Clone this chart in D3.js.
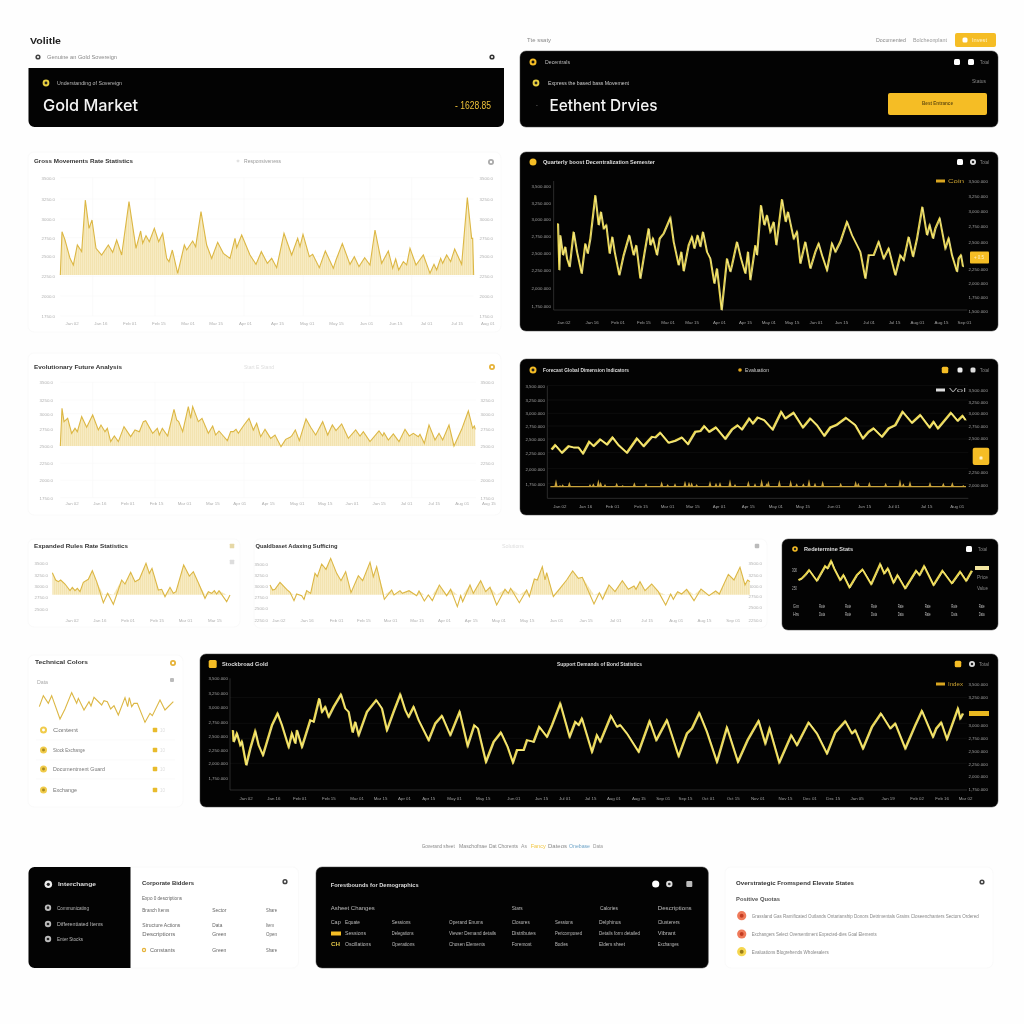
<!DOCTYPE html>
<html><head><meta charset="utf-8">
<script src="https://cdn.jsdelivr.net/npm/d3@7/dist/d3.min.js"></script>
<style>html,body{margin:0;padding:0;background:#fefefe}svg{display:block;filter:blur(0.3px)}text{font-family:"Liberation Sans",Arial,sans-serif}</style>
</head><body><svg id="c" width="1024" height="1024" viewBox="0 0 1024 1024"></svg>
<script>
// ---- data: [day, price] ----
const goldPrice=[[121,250],[126,380],[135,355],[150,300],[160,280],[172,340],[185,320],[196,475],[207,390],[216,415],[228,330],[245,310],[265,340],[278,318],[290,355],[305,310],[327,470],[348,330],[362,382],[368,345],[378,368],[388,350],[403,390],[416,350],[428,375],[440,300],[447,290],[457,325],[473,255],[493,340],[500,325],[518,352],[527,335],[543,440],[560,340],[575,300],[593,348],[610,315],[630,300],[645,360],[650,332],[665,370],[690,310],[708,282],[724,320],[742,285],[755,300],[770,272],[792,375],[815,310],[833,360],[840,335],[849,372],[868,305],[878,312],[898,272],[916,322],[940,270],[948,295],[967,344],[990,282],[1003,305],[1017,275],[1034,302],[1050,280],[1065,385],[1085,285],[1105,322],[1118,270],[1127,298],[1136,265],[1150,290],[1160,280],[1170,330],[1188,280],[1210,310],[1230,255],[1242,282],[1250,265],[1262,300],[1268,285],[1280,310],[1292,290],[1304,328],[1325,282],[1342,482],[1355,360],[1358,360],[1361,250]];
const ethPrice=[[143,405],[147,265],[150,370],[158,310],[165,335],[170,300],[178,275],[190,380],[200,320],[214,255],[225,345],[232,315],[240,360],[255,490],[265,400],[272,440],[280,390],[288,400],[298,315],[306,365],[313,320],[327,250],[340,310],[357,370],[370,310],[378,340],[390,240],[403,320],[415,390],[420,340],[428,360],[440,310],[448,360],[460,375],[480,422],[490,350],[505,280],[513,320],[520,262],[535,340],[545,365],[552,330],[562,370],[570,335],[578,380],[590,320],[600,300],[612,225],[620,270],[634,145],[650,300],[660,260],[665,280],[680,350],[692,300],[705,255],[713,320],[720,235],[735,340],[740,310],[752,460],[762,400],[770,430],[780,380],[790,410],[798,340],[815,478],[826,410],[833,440],[850,360],[860,380],[870,285],[885,350],[900,270],[915,320],[925,345],[935,310],[950,265],[965,345],[975,320],[990,350],[1010,410],[1025,370],[1040,340],[1050,320],[1065,240],[1075,310],[1090,310],[1105,350],[1120,300],[1135,330],[1155,250],[1170,310],[1180,295],[1195,365],[1208,305],[1220,360],[1236,455],[1250,370],[1258,400],[1268,360],[1275,390],[1288,420],[1305,330],[1315,360],[1325,310],[1340,260],[1345,300],[1352,310],[1358,275]];
const silverPrice=[[121,712],[126,825],[132,785],[143,795],[155,750],[165,765],[172,755],[185,800],[200,768],[218,805],[235,760],[243,775],[255,755],[262,765],[272,725],[283,742],[295,725],[312,770],[332,740],[345,760],[358,755],[370,785],[377,788],[398,750],[412,765],[418,745],[427,765],[443,742],[462,822],[470,790],[476,785],[488,755],[505,830],[512,795],[518,830],[535,785],[546,795],[565,750],[578,772],[587,745],[597,757],[610,742],[622,728],[632,755],[640,755],[648,762],[655,750],[672,775],[687,795],[700,760],[710,780],[722,740],[735,762],[752,735],[765,745],[783,710],[797,732],[810,738],[815,742],[826,760],[838,728],[858,793],[872,768],[887,745],[908,785],[923,745],[937,775],[948,758],[965,778],[985,735],[1007,760],[1020,742],[1030,755],[1050,725],[1077,757],[1088,742],[1092,752],[1105,730],[1120,748],[1137,725],[1155,762],[1168,742],[1180,750],[1195,740],[1200,747],[1213,720],[1227,775],[1245,730],[1257,750],[1268,730],[1287,775],[1302,712],[1325,762],[1345,817],[1358,765],[1363,772],[1366,762]];
const copperPrice=[[124,702],[135,715],[155,692],[175,712],[190,708],[205,708],[218,690],[237,725],[250,712],[270,732],[290,717],[307,738],[325,715],[350,692],[380,735],[400,712],[425,740],[435,738],[450,752],[475,722],[495,728],[515,738],[533,718],[555,755],[570,757],[582,772],[597,755],[617,768],[645,734],[665,762],[682,774],[695,762],[717,795],[728,780],[742,798],[762,790],[787,762],[813,815],[825,795],[835,802],[850,812],[878,768],[900,795],[920,775],[942,743],[960,768],[978,775],[1007,797],[1035,775],[1058,735],[1075,755],[1090,765],[1115,740],[1135,765],[1155,775],[1177,815],[1205,782],[1230,805],[1258,768],[1270,785],[1283,765],[1322,812],[1342,788],[1357,803],[1366,790]];
const copperVolume=[[138,612],[150,595],[158,597],[178,605],[240,598],[250,600],[265,612],[272,605],[285,598],[320,602],[338,595],[373,603],[408,600],[455,606],[473,598],[495,600],[525,608],[537,605],[545,603],[560,598],[600,607],[618,602],[630,604],[660,612],[675,598],[715,608],[735,600],[755,613],[770,600],[775,608],[808,610],[842,610],[860,600],[880,600],[897,613],[915,602],[938,608],[992,602],[1037,608],[1045,602],[1078,605],[1127,602],[1170,612],[1180,600],[1200,607],[1260,604],[1300,602],[1327,604],[1360,595]];
const platinumPrice=[[97,872],[107,850],[115,845],[122,850],[135,838],[150,818],[157,828],[165,818],[172,825],[180,815],[190,843],[205,852],[217,878],[230,845],[250,782],[263,810],[280,777],[305,850],[315,838],[332,873],[345,845],[358,852],[378,900],[388,870],[396,885],[415,820],[425,822],[435,800],[450,828],[460,810],[468,815],[491,895],[508,862],[520,875],[535,842],[555,795],[565,815],[575,810],[583,818],[590,808],[597,818],[620,785],[630,805]];
const palladiumPrice=[[750,835],[758,820],[765,822],[780,843],[800,822],[810,813],[822,788],[830,808],[845,803],[852,792],[860,818],[872,810],[885,870],[892,860],[905,898],[918,882],[932,915],[950,870],[963,848],[977,875],[993,812],[1015,863],[1028,848],[1050,903],[1060,860],[1070,890],[1093,792],[1115,820],[1122,805],[1140,818],[1147,810],[1167,818],[1190,803],[1197,817],[1213,787],[1225,805],[1237,788],[1258,835],[1280,803],[1292,822],[1312,770],[1322,803],[1328,785],[1350,835],[1360,810],[1382,848],[1397,815],[1410,828],[1430,775],[1455,822],[1465,810],[1472,825],[1498,782],[1520,820],[1528,800],[1543,853],[1552,850],[1567,890],[1575,850],[1580,872],[1600,800],[1620,825],[1640,850],[1658,877],[1675,855],[1687,858],[1722,778],[1738,812],[1748,792],[1767,835],[1785,815],[1807,848],[1825,822],[1842,832],[1848,822],[1860,845],[1875,818],[1895,838],[1915,815],[1937,775],[1952,808],[1960,792],[1973,815],[1985,808],[2000,822],[2022,788],[2043,823],[2067,803],[2087,817],[2098,808],[2125,867],[2142,850],[2160,888],[2175,835],[2183,850],[2190,845]];
const rhodiumPrice=[[865,850],[875,855],[885,865],[897,880],[920,848],[945,892],[952,885],[963,907],[972,885],[990,850],[1000,865],[1018,828],[1040,865],[1057,882],[1083,838],[1110,898],[1122,870],[1133,885],[1150,842],[1162,865],[1185,825],[1218,878],[1228,865],[1242,892],[1270,835],[1297,878],[1325,840],[1350,875],[1368,848],[1385,878]];
const nickelPrice=[[58,815],[70,848],[85,825],[95,848],[120,778],[135,808],[155,857],[170,825],[175,840],[192,805],[207,830],[213,817],[222,843],[245,820],[252,833],[262,830],[272,808],[282,818],[295,790],[315,842],[323,815],[328,842],[335,815],[342,825],[352,825],[375,768],[390,795],[397,788],[420,835],[435,805],[460,830]];
const indexPrice=[[638,745],[640,710],[650,735],[660,700],[665,710],[678,640],[690,690],[705,742],[715,700],[728,670],[740,710],[755,760],[772,795],[785,760],[805,695],[815,735],[825,705],[830,745],[845,695],[870,775],[880,770],[897,840],[905,800],[915,815],[925,785],[940,815],[962,852],[975,810],[985,800],[997,738],[1005,770],[1015,730],[1040,800],[1068,835],[1085,810],[1100,745],[1120,800],[1140,852],[1155,805],[1165,785],[1180,815],[1195,775],[1225,715],[1245,765],[1265,788],[1290,730],[1318,800],[1342,698],[1362,760],[1373,750],[1397,650],[1420,710],[1442,738],[1462,695],[1478,648],[1490,685],[1510,685],[1520,715],[1540,710],[1557,755],[1580,725],[1595,760],[1620,825],[1648,725],[1665,770],[1675,760],[1685,780],[1715,680],[1730,730],[1740,710],[1772,788],[1790,755],[1800,760],[1820,735],[1855,680],[1888,772],[1908,715],[1940,775],[1975,667],[2000,735],[2015,750],[2037,797],[2060,740],[2090,650],[2120,753],[2153,650],[2182,715],[2215,773],[2235,705],[2248,750],[2277,648],[2313,730],[2330,700],[2365,768],[2390,735],[2420,675],[2445,738],[2475,772],[2495,735],[2505,745],[2528,690],[2555,755],[2582,795],[2610,750],[2625,765],[2655,690],[2685,760],[2705,803],[2738,725],[2748,750],[2763,768],[2780,718],[2813,810],[2820,780],[2828,795]];
// ---- ticks ----
const t1=[542,478,418,362,306,246,187,127], t1R=t1;
const t2L=[518,467,418,368,317,264,211,158], t2R=[531,487,443,396,350,269,225,183,141];
const t3L=[903,850,809,763,713,660,609,557], t3R=t3L;
const t4L=[893,850,810,772,733,692,644,599], t4R=[880,845,810,772,735,633,595];
const t5L=[902,866,833,800,764], t6L=[899,866,832,800,767,730], t6R=[900,865,833,801,769,730];
const t9L=[900,856,813,770,728,686,645,600], t9R=[882,843,761,721,682,644,607,569];
const x1=[155,241,328,415,503,587,675,771,860,948,1038,1126,1218,1310,1402];
const x2=[160,245,323,400,473,545,627,705,775,845,917,993,1076,1152,1221,1293,1362];
const x3=[155,238,322,408,492,577,658,743,830,914,995,1076,1158,1241,1325,1405];
const x4=[148,225,306,392,471,547,626,713,796,877,970,1062,1150,1248,1340];
const x5=[155,238,323,410,495,583];
const x6=[775,860,948,1030,1110,1190,1272,1352,1435,1520,1608,1697,1785,1880,1967,2052,2138];
const x9=[677,760,838,925,1010,1080,1152,1225,1302,1388,1480,1563,1633,1710,1780,1855,1928,1995,2063,2138,2212,2295,2368,2438,2510,2603,2690,2765,2835];
const priceLabels=["3500.0","3250.0","3000.0","2750.0","2500.0","2250.0","2000.0","1750.0","1500.0"];
const priceLabelsLong=["3,500.000","3,250.000","3,000.000","2,750.000","2,500.000","2,250.000","2,000.000","1,750.000","1,500.000"];
const dateLabels=["Jan 02","Jan 16","Feb 01","Feb 15","Mar 01","Mar 15","Apr 01","Apr 15","May 01","May 15","Jun 01","Jun 15","Jul 01","Jul 15","Aug 01","Aug 15","Sep 01","Sep 15","Oct 01","Oct 15","Nov 01","Nov 15","Dec 01","Dec 15","Jan 05","Jan 19","Feb 02","Feb 16","Mar 02"];

// ---- helpers ----
const svg=d3.select("#c");
const defs=svg.append("defs");
const pat=defs.append("pattern").attr("id","st").attr("patternUnits","userSpaceOnUse").attr("width",2).attr("height",4);
pat.append("rect").attr("width",2).attr("height",4).attr("fill","#f7ebc2");
pat.append("rect").attr("width",0.8).attr("height",4).attr("fill","#f2e2ac");
const Y="#f5bd25",LINE="#ecd648",GOLD="#dcb744";
function card(x,y,w,h,dark,r=6){return svg.append("rect").attr("x",x).attr("y",y).attr("width",w).attr("height",h).attr("rx",r)
  .attr("fill",dark?"#030303":"#ffffff").attr("stroke",dark?"#444":"#fafafa").attr("stroke-width",dark?0.5:1);}
function txt(x,y,s,o={}){const t=svg.append("text").attr("x",x).attr("y",y).attr("dy","0.35em").text(s)
  .attr("font-size",o.size||5.2).attr("fill",o.fill||"#777").attr("font-weight",o.bold?700:400);
  if(o.font)t.style("font-family",o.font);
  if(o.w)t.attr("textLength",o.w).attr("lengthAdjust","spacingAndGlyphs");return t;}
function ico(x,y,c="#f3c52e",r=3.5,inner="#111"){svg.append("circle").attr("cx",x).attr("cy",y).attr("r",r).attr("fill",c);
  if(inner)svg.append("circle").attr("cx",x).attr("cy",y).attr("r",r*0.42).attr("fill",inner);}
function sq(x,y,c="#fff",s=6,r=1.5){svg.append("rect").attr("x",x-s/2).attr("y",y-s/2).attr("width",s).attr("height",s).attr("rx",r).attr("fill",c);}
function plot(c){
  const x=d3.scaleLinear().domain(c.xd).range([c.ox+c.xd[0]/3,c.ox+c.xd[1]/3]);
  const y=d3.scaleLinear().domain(c.yd).range([c.oy+(1000-c.yd[0])/3,c.oy+(1000-c.yd[1])/3]);
  const g=svg.append("g"),lab=c.dark?"#a0a0a0":"#b0b0b0";
  const grid=c.dark?"#141414":"#f9f9f9";
  const pl=c.dark?priceLabelsLong:priceLabels;
  g.selectAll(".gh").data(c.grid||c.tl||[]).join("line").attr("x1",x(c.xd[0])).attr("x2",x(c.xd[1])).attr("y1",d=>y(d)).attr("y2",d=>y(d)).attr("stroke",grid).attr("stroke-width",0.6);
  if(c.gridX)g.selectAll(".gv").data(c.gridX).join("line").attr("x1",d=>x(d)).attr("x2",d=>x(d)).attr("y1",y(c.yd[0])).attr("y2",y(c.yd[1])).attr("stroke",grid).attr("stroke-width",0.6);
  if(c.frame){g.append("path").attr("d",`M${x(c.xd[0])},${y(c.yd[1])}V${y(c.yd[0])}H${x(c.xd[1])}`).attr("fill","none").attr("stroke","#3c3c3c").attr("stroke-width",0.7);}
  const ax=(a,px,py,anchor)=>{const s=g.append("g").attr("transform",`translate(${px},${py})`).call(a);
    s.select(".domain").remove();s.selectAll("text").attr("fill",lab).attr("font-size",c.fs||4.4).attr("dy","0.35em").attr("text-anchor",anchor).attr("y",null).style("font-family",'"Liberation Sans",Arial,sans-serif');return s;};
  if(c.tl)ax(d3.axisLeft(y).tickValues(c.tl).tickSize(0).tickPadding(0).tickFormat((d,i)=>pl[i%9]),c.lx,0,"end");
  if(c.tr)ax(d3.axisRight(y).tickValues(c.tr).tickSize(0).tickPadding(0).tickFormat((d,i)=>pl[i%9]),c.rx,0,"end").selectAll("text").attr("x",0);
  if(c.tx){const s=ax(d3.axisBottom(x).tickValues(c.tx).tickSize(0).tickPadding(0).tickFormat((d,i)=>dateLabels[i%29]),0,c.xy,"middle");s.selectAll("text").attr("y",0);}
  if(c.base!=null){const a=d3.area().x(d=>x(d[0])).y0(y(c.base)).y1(d=>y(Math.max(d[1],c.base)));
    g.append("path").attr("d",a(c.data)).attr("fill","url(#st)");}
  const l=d3.line().x(d=>x(d[0])).y(d=>y(d[1]));
  g.append("path").attr("d",l(c.data)).attr("fill","none").attr("stroke",c.color||GOLD).attr("stroke-width",c.sw||1.1).attr("stroke-linejoin","miter");
  if(c.dark&&c.sw2)g.append("path").attr("d",l(c.data)).attr("fill","none").attr("stroke","#f8ee8e").attr("stroke-width",c.sw2).attr("transform","translate(0.9,0.5)").attr("opacity",.85);
  return {x,y,g};
}

// ---- top left ----
svg.append("rect").attr("width",1024).attr("height",1024).attr("fill","#fefefe");
txt(30,41,"Volitle",{size:9.5,bold:true,fill:"#222",w:31});
ico(38,57,"#444",2.6,"#fff");txt(47,57,"Genuine an Gold Sovereign",{w:70,size:5,fill:"#888"});
ico(492,57,"#333",2.6,"#fff");
svg.append("path").attr("d","M28.5,68H504V121a6,6 0 0 1 -6,6H34.5a6,6 0 0 1 -6,-6Z").attr("fill","#030303");
ico(46,83,"#e8d040",3.4,"#222");txt(57,83,"Understanding of Sovereign",{w:65,size:5,fill:"#bbb"});
txt(43,105.5,"Gold Market",{size:16.5,fill:"#f4f4f4",font:"Inter",w:95}).attr("font-weight",500);
txt(455,105,"- 1628.85",{size:10,fill:"#eec23a",w:36});

// ---- top right ----
txt(527,40,"Tte ssaty",{w:24,fill:"#888"});txt(876,40,"Documented",{w:30,fill:"#888"});txt(913,40,"Bolcheonplant",{w:34,fill:"#999"});
svg.append("rect").attr("x",955).attr("y",33).attr("width",41).attr("height",14).attr("rx",2).attr("fill",Y);
sq(965,40,"#fff",5,1.5);txt(972,40,"Invest",{w:15,fill:"#fff3c8"});
card(520,51,478,76,true);
ico(533,62,Y,3.5,"#111");txt(545,62,"Decentrals",{w:25,fill:"#bbb"});sq(957,62);sq(971,62);txt(980,62,"Total",{w:9,fill:"#888"});
ico(536,83,"#e8d040",3.4,"#222");txt(548,83,"Express the based bass Movement",{w:81,fill:"#ccc"});txt(972,81,"Status",{w:14,fill:"#888"});
txt(536,105,"-",{fill:"#888"});txt(549.5,105,"Eethent Drvies",{size:16.5,fill:"#f4f4f4",font:"Inter",w:108}).attr("font-weight",500);
svg.append("rect").attr("x",888).attr("y",93).attr("width",99).attr("height",22).attr("rx",2).attr("fill",Y);
txt(922,103,"Best Entrance",{w:31,fill:"#6b5210",bold:true});

// ---- chart 1 ----
card(28,152,473,180,false);
txt(34,161,"Gross Movements Rate Statistics",{w:99,bold:true,fill:"#333",size:5.6});
sq(238,161,"#e2e2e2",2.5,0.5);txt(244,161,"Responsiveness",{w:37,fill:"#999"});ico(491,162,"#aaa",3,"#fff");
plot({data:goldPrice,base:250,ox:20,oy:25,xd:[121,1361],yd:[127,542],tl:t1,tr:t1R,lx:55,rx:493,tx:x1,xy:323,gridX:[218,405,672,850,1050,1175]});

// ---- chart 2 ----
card(520,152,478,179,true);
ico(533,162,Y,3.5,Y);txt(543,162,"Quarterly boost Decentralization Semester",{w:112,bold:true,fill:"#ddd",size:5.4});
sq(960,162);ico(973,162,"#e6e6e6",3,"#222");txt(980,162,"Total",{w:9,fill:"#888"});
plot({data:ethPrice,dark:true,color:LINE,sw:1.4,sw2:1.1,frame:true,ox:510,oy:25,xd:[131,1372],yd:[145,532],tl:t2L,tr:t2R,lx:551,rx:988,tx:x2,xy:322.7,grid:[],fs:4.4});
svg.append("rect").attr("x",936).attr("y",179.5).attr("width",9).attr("height",3).attr("fill","#d9a520");txt(948,181,"Coin",{w:16,fill:"#c9a030"});
svg.append("rect").attr("x",970).attr("y",251.5).attr("width",19).attr("height",12).attr("rx",1).attr("fill",Y);txt(974,257,"+ 0.5",{w:10,fill:"#fff3c8"});

// ---- chart 3 ----
card(28,353,473,162,false);
txt(34,367,"Evolutionary Future Analysis",{w:88,bold:true,fill:"#333",size:5.6});txt(244,367,"Start E Stand",{w:30,fill:"#ddd"});
ico(492,367,"#e6b33a",3,"#fff");
plot({data:silverPrice,base:712,ox:20,oy:350,xd:[121,1368],yd:[557,903],tl:t3L,tr:t3R,lx:53,rx:494,tx:x3,xy:503.7,gridX:[218,405,672,850,1050,1175]});

// ---- chart 4 ----
card(520,359,478,156,true);
ico(533,370,Y,3.5,"#222");txt(543,370,"Forecast Global Dimension Indicators",{w:86,bold:true,fill:"#ddd",size:5.4});
ico(740,370,"#e3a81f",1.8,null);txt(745,370,"Evaluation",{w:24,fill:"#ccc"});sq(945,370,Y,6.5);sq(960,370,"#eee",5);sq(973,370,"#ddd",5);txt(980,370,"Total",{w:9,fill:"#888"});
const p4=plot({data:copperPrice,dark:true,color:LINE,sw:1.9,sw2:1.2,frame:true,ox:510,oy:350,xd:[112,1375],yd:[555,893],tl:t4L,tr:t4R,lx:545,rx:988,tx:x4,xy:506.3,fs:4.4});
p4.g.selectAll("path.v").data(copperVolume).join("path").attr("class","v").attr("fill","#c9a33b")
  .attr("d",d=>`M${p4.x(d[0]-5)},${p4.y(590)}L${p4.x(d[0])},${p4.y(d[1])}L${p4.x(d[0]+5)},${p4.y(590)}Z`);
p4.g.append("line").attr("x1",p4.x(121)).attr("x2",p4.x(1368)).attr("y1",p4.y(590)).attr("y2",p4.y(590)).attr("stroke","#c9a33b").attr("stroke-width",1.1);
svg.append("rect").attr("x",936).attr("y",388.5).attr("width",9).attr("height",3).attr("fill","#ddd");txt(949,390,"Vol",{w:17,fill:"#aaa"});
svg.append("rect").attr("x",972.7).attr("y",447.7).attr("width",16.6).attr("height",17.3).attr("rx",2).attr("fill",Y);sq(981,458,"#fff3c8",3,0.5);

// ---- chart 5, 6 ----
card(28,539,212,88,false);
txt(34,546,"Expanded Rules Rate Statistics",{w:94,bold:true,fill:"#333",size:5.6});sq(232,546,"#e6d8a6",4.5,0.5);sq(232,562,"#ddd",4.5,0.5);
plot({data:platinumPrice,base:806,ox:20,oy:530,xd:[97,630],yd:[764,902],tl:t5L,lx:48,tx:x5,xy:620.7,fs:4.4,grid:[]});
card(254,539,513,89,false);
txt(255.5,546,"Qualdbaset Adaxing Sufficing",{w:82,bold:true,fill:"#333",size:5.6});txt(502,546,"Solutions",{w:22,fill:"#ddd"});sq(757,546,"#bbb",4.5,1);
plot({data:palladiumPrice,base:806,ox:20,oy:530,xd:[750,2190],yd:[730,899],tl:t6L,tr:t6R,lx:268,rx:762,tx:x6,xy:620.7,fs:4.4,grid:[]});

// ---- chart 7 ----
card(782,539,216,91,true);
ico(795,549,Y,2.8,"#222");txt(804,549,"Redetermine Stats",{w:49,bold:true,fill:"#ddd",size:5.4});sq(969,549,"#fff",6);txt(978,549,"Total",{w:9,fill:"#888"});
plot({data:rhodiumPrice,dark:true,color:LINE,sw:1.8,sw2:1,ox:510,oy:530,xd:[865,1385],yd:[820,910],grid:[]});
txt(792,570,"300",{w:5,fill:"#bbb"});txt(792,588,"250",{w:5,fill:"#aaa"});
svg.append("rect").attr("x",975).attr("y",566).attr("width",14).attr("height",4).attr("fill","#f3e6a0");
txt(977,577,"Price",{w:11,fill:"#888"});txt(977,588,"Value",{w:11,fill:"#888"});
const c7=[796,822,848,874,900.7,927.7,954.3,981.7];
const c7a=["Gm","Rate","Rate","Rate","Rate","Rate","Rate","Rate"],c7b=["Hrs","Data","Rate","Data","Data","Rate","Data","Data"];
c7.forEach((x,i)=>{txt(x-3,606.3,c7a[i],{w:6,fill:"#bbb"});txt(x-3,614,c7b[i],{w:6,fill:"#bbb"});});

// ---- panel 8 ----
card(28,655,155,152,false);
txt(35,662,"Technical Colors",{w:53,bold:true,fill:"#333",size:5.6});ico(173,663,"#e6b33a",3,"#fff");
txt(37,682,"Data",{w:11,fill:"#aaa"});sq(172,680,"#bbb",4,1);
plot({data:nickelPrice,color:GOLD,sw:1.1,ox:20,oy:645,xd:[58,460],yd:[760,860],grid:[]});
const rows8=[["Content",730],["Stock Exchange",750],["Documentment Guard",769],["Exchange",790]];
rows8.forEach((r,i)=>{ico(43.5,r[1],"#f0cb4a",3.5,i?"#a88a20":"#fff");txt(53,r[1],r[0],{w:i==2?52:i==1?32:i==0?25:24,fill:"#777"});
  sq(155,r[1],"#e8bb2c",4.5,0.8);txt(160,r[1],"10",{w:5,fill:"#ddd"});
  if(i<3)svg.append("line").attr("x1",36).attr("x2",175).attr("y1",r[1]+10).attr("y2",r[1]+10).attr("stroke","#f8f8f8").attr("stroke-width",.7);});

// ---- chart 9 ----
card(200,654,798,153,true);
sq(212.7,664,Y,8,1.5);txt(222,664,"Stockbroad Gold",{w:46,bold:true,fill:"#ddd",size:5.4});
txt(557,664,"Support Demands of Bond Statistics",{w:85,bold:true,fill:"#ddd",size:5.4});
sq(958,664,Y,6.5);ico(972,664,"#ddd",3,"#222");txt(979,664,"Total",{w:10,fill:"#888"});
plot({data:indexPrice,dark:true,color:LINE,sw:1.8,sw2:1.2,frame:true,ox:20,oy:645,xd:[630,2841],yd:[565,900],tl:t9L,tr:t9R,lx:228,rx:988,tx:x9,xy:798.3,grid:[842,765,720,645],fs:4.4});
svg.append("rect").attr("x",936).attr("y",682.5).attr("width",9).attr("height",3).attr("fill","#d9a520");txt(948,684,"Index",{w:15,fill:"#c9a030"});
svg.append("rect").attr("x",969).attr("y",711).attr("width",20).attr("height",5).attr("fill","#e9b820");

// ---- caption ----
[["Goverand sheet",421.7,33,"#888"],["Maschofnae",459,28,"#888"],["Dat Chorents",489,29,"#888"],["As",521,6,"#999"],["Fancy",530.7,15,"#f2c744"],["Dateos",548,19,"#888"],["Onebase",569,21,"#6ea4c8"],["Data",593,10,"#999"]]
 .forEach(d=>txt(d[1],846,d[0],{w:d[2],fill:d[3],size:4.8}));

// ---- bottom A ----
card(28.5,867,270,101,false);
svg.append("path").attr("d","M34.5,867H130.5V968H34.5a6,6 0 0 1 -6,-6V873a6,6 0 0 1 6,-6Z").attr("fill","#030303");
ico(48.3,884.3,"#eee",3.8,"#222");txt(58,884,"Interchange",{w:38,bold:true,fill:"#ddd",size:5.6});
[["Communicating",907.7,32],["Differentiated Items",924,46],["Enter Stocks",939,26]].forEach(r=>{ico(48,r[1],"#bbb",3.2,"#222");txt(57,r[1],r[0],{w:r[2],fill:"#bbb"});});
txt(142,882.7,"Corporate Bidders",{w:52,bold:true,fill:"#333",size:5.8});ico(285,881.7,"#444",2.6,"#fff");
txt(142,898,"Expo 0 descriptions",{w:40,fill:"#666"});
[["Branch Items","Sector","Share",910],["Structure Actions","Data","Item",925],["Descriptions","Green","Open",934.3],["Constants","Green","Share",950]].forEach((r,i)=>{
  txt(i==3?150:142.3,r[3],r[0],{w:i==3?25:i==1?38:i==2?33:27,fill:"#666"});txt(212.3,r[3],r[1],{w:i==1?10:14,fill:"#666"});txt(266,r[3],r[2],{w:i==1?8:11,fill:"#666"});});
ico(144,950,"#e6b33a",2.2,"#fff");

// ---- bottom B ----
card(316,867,392.3,101,true);
txt(330.7,884.7,"Forestbounds for Demographics",{w:88,bold:true,fill:"#ddd",size:5.6});
ico(655.7,884,"#fff",3.6,null);ico(669.3,884,"#ddd",3.2,"#333");sq(689.3,884,"#bbb",6,1);
[["Asheet Changes",330.7,44],["Stars",511.7,11],["Calories",600,18],["Descriptions",657.7,34]].forEach(d=>txt(d[1],908,d[0],{w:d[2],fill:"#bbb"}));
const bCols=[345,391.7,449,511.7,555,599,657.7];
const bRows=[[922.3,["Equate","Sessions","Operand Enums","Closures","Sessions","Delphinus","Clusterers"],[15,19,34,18,18,22,22]],[933.3,["Sessions","Delegations","Viewer Demand details","Distributes","Pericomposed","Details form detailed","Vibrant"],[21,22,47,24,27,41,18]],[944,["Oscillations","Operations","Chosen Elements","Foremost","Bodies","Elders sheet","Exchanges"],[26,23,36,20,13,26,21]]];
bRows.forEach(r=>r[1].forEach((s,i)=>txt(bCols[i],r[0],s,{w:r[2][i],fill:"#bbb"})));
txt(330.7,922.3,"Cap",{w:10,fill:"#bbb"});svg.append("rect").attr("x",331).attr("y",931.5).attr("width",10).attr("height",4).attr("fill",Y);txt(331,944,"CH",{w:9,bold:true,fill:"#e6c94a",size:6});

// ---- bottom C ----
card(725,867,268,101,false);
txt(736,882.7,"Overstrategic Fromspend Elevate States",{w:118,bold:true,fill:"#333",size:5.8});ico(982,882,"#444",2.6,"#fff");
txt(736,898.7,"Positive Quotas",{w:44,bold:true,fill:"#555",size:5.4});
[["#ef7a5a","#c43d22",915.7,"Grassland Gas Ramificated Outlands Ontarianship Donors Detrimentals Grains Closeenchanters Sectors Ordered",227],["#ef7a5a","#c43d22",934,"Exchangers Select Oversentiment Expected-dies Goal Elements",125],["#f6d750","#9a7d18",951.7,"Evaluations Blogrehends Wholesalers",77]]
 .forEach(r=>{ico(741.7,r[2],r[0],4.6,r[1]);txt(751.7,r[2],r[3],{w:r[4],fill:"#888"});});
</script></body></html>
